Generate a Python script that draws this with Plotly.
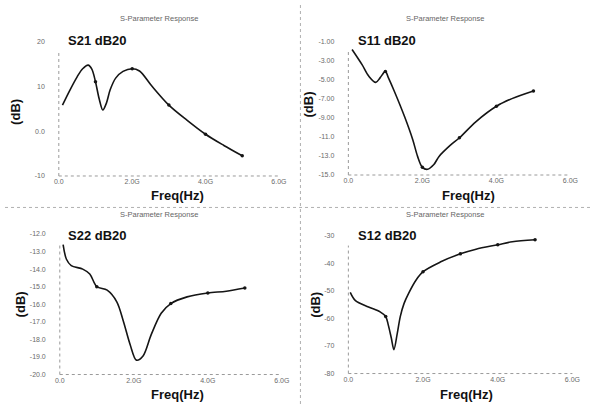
import plotly.graph_objects as go

W, H = 598, 407

# ---------------- data ----------------
S21_F = [0.1, 0.3, 0.5, 0.65, 0.8, 0.9, 1.0, 1.1, 1.2, 1.3, 1.4, 1.55, 1.75, 2.0, 2.2, 2.53, 3.0, 3.5, 4.0, 4.5, 5.0]
S21_DB = [5.8, 9.1, 12.1, 13.9, 14.7, 13.8, 11.0, 7.2, 4.7, 6.3, 9.2, 11.8, 13.3, 13.9, 13.4, 10.1, 5.8, 2.4, -0.7, -3.2, -5.5]

S11_F = [0.1, 0.37, 0.55, 0.74, 0.86, 1.0, 1.08, 1.25, 1.52, 1.74, 1.87, 2.0, 2.14, 2.31, 2.45, 2.75, 3.0, 3.45, 4.0, 4.42, 5.0]
S11_DB = [-1.85, -3.44, -4.64, -5.3, -4.8, -4.15, -4.8, -6.3, -8.9, -11.3, -13.05, -14.2, -14.4, -13.9, -13.05, -11.9, -11.1, -9.4, -7.8, -7.0, -6.2]

S22_F = [0.09, 0.18, 0.31, 0.62, 0.81, 1.0, 1.28, 1.54, 1.72, 1.9, 2.07, 2.25, 2.47, 2.74, 3.0, 3.44, 4.0, 4.5, 5.0]
S22_DB = [-12.6, -13.44, -13.8, -14.0, -14.28, -15.0, -15.2, -15.86, -16.98, -18.29, -19.18, -18.94, -17.73, -16.51, -15.96, -15.58, -15.36, -15.26, -15.08]

S12_F = [0.05, 0.19, 0.54, 0.85, 1.0, 1.07, 1.15, 1.22, 1.31, 1.39, 1.49, 1.62, 1.81, 2.0, 2.46, 3.0, 3.42, 4.0, 4.39, 5.0]
S12_DB = [-50.5, -53.5, -55.8, -57.6, -59.3, -62.4, -67.1, -71.3, -65.4, -59.3, -54.6, -50.7, -46.1, -43.0, -39.5, -36.5, -34.8, -33.2, -32.1, -31.4]

MARK_F = [1.0, 2.0, 3.0, 4.0, 5.0]

X_TICKS = [0, 2, 4, 6]
X_TICKTEXT = ["0.0", "2.0G", "4.0G", "6.0G"]

S21_YT = [20, 10, 0, -10]
S21_YTT = ["20", "10", "0.0", "-10"]
S11_YT = [-1, -3, -5, -7, -9, -11, -13, -15]
S11_YTT = ["-1.00", "-3.00", "-5.00", "-7.00", "-9.00", "-11.0", "-13.0", "-15.0"]
S22_YT = [-12, -13, -14, -15, -16, -17, -18, -19, -20]
S22_YTT = ["-12.0", "-13.0", "-14.0", "-15.0", "-16.0", "-17.0", "-18.0", "-19.0", "-20.0"]
S12_YT = [-30, -40, -50, -60, -70, -80]
S12_YTT = ["-30", "-40", "-50", "-60", "-70", "-80"]

NAMES = ["S21 dB20", "S11 dB20", "S22 dB20", "S12 dB20"]
TITLE = "S-Parameter Response"

# ---------------- layout helpers ----------------
def px_x(p):
    return p / W

def px_y(p):
    return 1 - p / H

panels = [
    dict(f=S21_F, v=S21_DB, yt=S21_YT, ytt=S21_YTT, yr=[-10, 20], box=(55, 280, 38, 175),
         tc=(157, 15), nm=(62, 37), db=(10, 110), fq=(176, 195)),
    dict(f=S11_F, v=S11_DB, yt=S11_YT, ytt=S11_YTT, yr=[-15, -1], box=(351, 578, 38, 174),
         tc=(450, 15), nm=(359, 37), db=(310, 102), fq=(474, 195)),
    dict(f=S22_F, v=S22_DB, yt=S22_YT, ytt=S22_YTT, yr=[-20, -12], box=(56, 283, 234, 377),
         tc=(157, 214), nm=(62, 236), db=(16, 306), fq=(176, 397)),
    dict(f=S12_F, v=S12_DB, yt=S12_YT, ytt=S12_YTT, yr=[-80, -30], box=(351, 580, 236, 376),
         tc=(450, 214), nm=(359, 236), db=(318, 306), fq=(472, 397)),
]

fig = go.Figure()
shapes = []
annotations = []
LINE_COL = "#151515"
GRID_COL = "#9a9a9a"
TICK_COL = "#6a6a6a"
BOLD = "Liberation Sans, Arial, sans-serif"

for i, p in enumerate(panels):
    n = "" if i == 0 else str(i + 1)
    xa, ya = "x" + n, "y" + n
    x0, x1, yt, yb = p["box"]
    fig.add_trace(go.Scatter(
        x=p["f"], y=p["v"], mode="lines", xaxis=xa, yaxis=ya,
        line=dict(color=LINE_COL, width=1.6, shape="spline", smoothing=0.9),
        hoverinfo="skip", showlegend=False))
    mx = [f for f in p["f"] if f in MARK_F]
    my = [v for f, v in zip(p["f"], p["v"]) if f in MARK_F]
    fig.add_trace(go.Scatter(
        x=mx, y=my, mode="markers", xaxis=xa, yaxis=ya,
        marker=dict(color=LINE_COL, size=3.5), hoverinfo="skip", showlegend=False))

    axis_common = dict(showgrid=False, zeroline=False, showline=False,
                       tickfont=dict(family="Liberation Sans, Arial", size=7, color=TICK_COL),
                       ticks="", fixedrange=True)
    fig.update_layout(**{
        ("xaxis" + n): dict(domain=[px_x(x0), px_x(x1)], range=[0, 6], anchor=ya,
                            tickvals=X_TICKS, ticktext=X_TICKTEXT, ticklabelstandoff=0, **axis_common),
        ("yaxis" + n): dict(domain=[px_y(yb), px_y(yt)], range=p["yr"], anchor=xa,
                            tickvals=p["yt"], ticktext=p["ytt"], ticklabelstandoff=13, **axis_common),
    })
    shapes.append(dict(type="line", xref=xa + " domain", yref=ya + " domain", x0=0, x1=1, y0=0, y1=0,
                       line=dict(color=GRID_COL, width=1, dash="dot")))
    shapes.append(dict(type="line", xref=xa + " domain", yref=ya + " domain", x0=0, x1=0, y0=0, y1=0.93,
                       line=dict(color=GRID_COL, width=1, dash="dot")))

    annotations.append(dict(text=TITLE, x=px_x(p["tc"][0]), y=px_y(p["tc"][1]), xref="paper", yref="paper",
                            showarrow=False, font=dict(family="Liberation Sans, Arial", size=7.5, color="#666"),
                            xanchor="center", yanchor="middle"))
    annotations.append(dict(text="<b>%s</b>" % NAMES[i], x=px_x(p["nm"][0]), y=px_y(p["nm"][1]),
                            xref="paper", yref="paper", showarrow=False,
                            font=dict(family=BOLD, size=13, color="#111"), xanchor="left", yanchor="middle"))
    annotations.append(dict(text="<b>(dB)</b>", x=px_x(p["db"][0]), y=px_y(p["db"][1]), xref="paper",
                            yref="paper", showarrow=False, textangle=-90,
                            font=dict(family=BOLD, size=13, color="#111"), xanchor="center", yanchor="middle"))
    annotations.append(dict(text="<b>Freq(Hz)</b>", x=px_x(p["fq"][0]), y=px_y(p["fq"][1]), xref="paper",
                            yref="paper", showarrow=False,
                            font=dict(family=BOLD, size=13, color="#111"), xanchor="center", yanchor="middle"))

# panel separators
shapes.append(dict(type="line", xref="paper", yref="paper", x0=px_x(302), x1=px_x(302), y0=0, y1=1,
                   line=dict(color="#b0b0b0", width=1, dash="dot")))
shapes.append(dict(type="line", xref="paper", yref="paper", x0=0, x1=1, y0=px_y(207), y1=px_y(207),
                   line=dict(color="#b0b0b0", width=1, dash="dot")))

fig.update_layout(width=W, height=H, margin=dict(l=0, r=0, t=0, b=0),
                  paper_bgcolor="white", plot_bgcolor="white",
                  shapes=shapes, annotations=annotations, showlegend=False)

fig.write_html("out.html", config={"displayModeBar": False},
               post_script="document.body.style.margin='0';")
